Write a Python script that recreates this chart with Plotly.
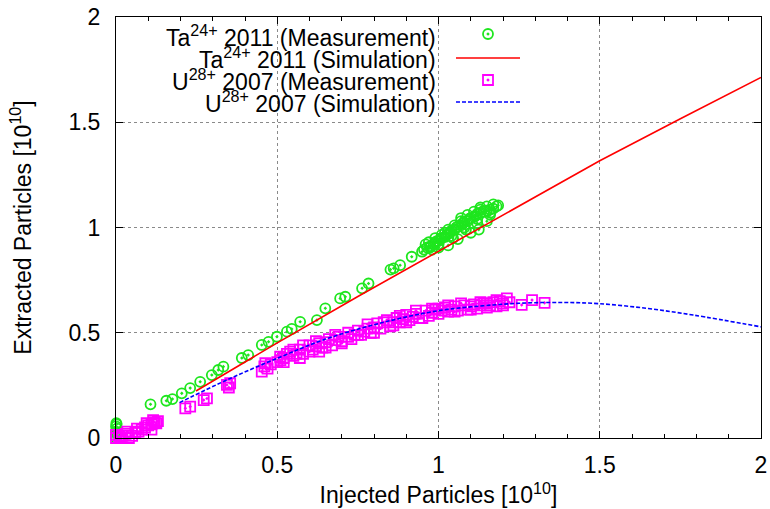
import plotly.graph_objects as go

# ---------------- data ----------------
ta_meas_x = [0.0, 0.0, 0.002, 0.0, 0.003, 0.0, 0.002, 0.001,
             0.107, 0.156, 0.175, 0.204, 0.23, 0.261, 0.297, 0.317, 0.333, 0.39, 0.41,
             0.452, 0.473, 0.499, 0.53, 0.545, 0.571, 0.623, 0.649, 0.695, 0.711,
             0.763, 0.783, 0.851, 0.861, 0.881, 0.917, 0.949, 0.974, 0.995,
             0.955, 0.965, 0.975, 0.985, 0.99, 1.0, 1.005, 1.01, 1.02, 1.025, 1.03, 1.035,
             1.04, 1.05, 1.055, 1.06, 1.07, 1.075, 1.08, 1.09, 1.095, 1.1, 1.11, 1.115,
             1.12, 1.13, 1.14, 1.15, 1.16, 1.17, 1.18, 1.185,
             1.03, 1.06, 1.1, 1.125, 1.15, 1.0, 0.98, 1.045, 1.085, 1.12, 1.16,
             1.02, 1.07, 1.13, 1.17,
             0.96, 0.97, 0.99, 1.01, 1.03, 1.05, 1.07, 1.09, 1.11, 1.13, 1.15,
             1.0, 1.04, 1.08, 1.12, 1.16]
ta_meas_y = [0.0, 0.01, 0.02, 0.03, 0.045, 0.055, 0.065, 0.07,
             0.16, 0.177, 0.185, 0.212, 0.237, 0.267, 0.299, 0.323, 0.339, 0.38, 0.394,
             0.442, 0.457, 0.481, 0.505, 0.518, 0.552, 0.56, 0.616, 0.663, 0.671,
             0.711, 0.734, 0.80, 0.806, 0.821, 0.861, 0.885, 0.905, 0.935,
             0.895, 0.905, 0.91, 0.92, 0.93, 0.935, 0.945, 0.95, 0.955, 0.965, 0.97, 0.975,
             0.985, 0.99, 1.0, 1.005, 1.01, 1.02, 1.025, 1.03, 1.04, 1.045, 1.05, 1.055,
             1.065, 1.07, 1.075, 1.08, 1.085, 1.09, 1.1, 1.105,
             0.915, 0.945, 0.975, 0.99, 1.03, 0.905, 0.895, 0.95, 0.99, 1.02, 1.06,
             0.975, 1.03, 1.085, 1.11,
             0.92, 0.93, 0.95, 0.965, 0.99, 1.01, 1.045, 1.06, 1.075, 1.095, 1.1,
             0.92, 0.96, 1.0, 1.04, 1.07]

ta_sim_x = [0.248, 0.5, 0.75, 1.0, 1.25, 1.5, 1.75, 2.0]
ta_sim_y = [0.223, 0.452, 0.672, 0.888, 1.104, 1.317, 1.517, 1.713]

u_meas_x = [0.0, 0.01, 0.02, 0.03, 0.04, 0.05, 0.06, 0.07, 0.08, 0.09, 0.1, 0.11, 0.12, 0.13,
            0.0, 0.015, 0.035, 0.065, 0.095, 0.115, 0.125, 0.11,
            0.215, 0.23, 0.272, 0.282, 0.344, 0.354, 0.35,
            0.452, 0.463, 0.47, 0.509, 0.52, 0.46, 0.48, 0.5, 0.51,
            0.52, 0.54, 0.55, 0.57, 0.58, 0.6, 0.61, 0.63, 0.64, 0.66, 0.67, 0.69, 0.7, 0.72,
            0.73, 0.75, 0.76, 0.78, 0.79, 0.81, 0.82, 0.84, 0.85, 0.87, 0.88, 0.9, 0.91, 0.93,
            0.94, 0.96, 0.97, 0.99, 1.0, 1.02, 1.03, 1.05, 1.06, 1.08, 1.09, 1.11, 1.12, 1.14,
            1.15, 1.17, 1.18, 1.2,
            0.56, 0.62, 0.68, 0.74, 0.8, 0.86, 0.92, 0.98, 1.04, 1.1, 1.16,
            0.65, 0.77, 0.89, 1.01, 1.13,
            0.55, 0.58, 0.6, 0.62, 0.65, 0.68, 0.7, 0.72, 0.75, 0.78, 0.8, 0.83, 0.86, 0.88,
            0.9, 0.93, 0.95, 0.98, 1.0, 1.03, 1.05, 1.07, 1.1, 1.13, 1.15, 1.18, 1.2,
            0.53, 0.57, 0.63,
            1.212, 1.258, 1.29, 1.329, 1.22, 1.19]
u_meas_y = [0.0, 0.005, 0.01, 0.02, 0.0, 0.01, 0.025, 0.03, 0.04, 0.05, 0.06, 0.065, 0.075, 0.08,
            0.015, 0.0, 0.03, 0.045, 0.07, 0.085, 0.07, 0.04,
            0.141, 0.149, 0.18, 0.188, 0.252, 0.26, 0.24,
            0.315, 0.355, 0.33, 0.386, 0.36, 0.34, 0.35, 0.36, 0.37,
            0.38, 0.41, 0.39, 0.42, 0.40, 0.44, 0.42, 0.45, 0.43, 0.47, 0.44, 0.48, 0.46, 0.50,
            0.47, 0.51, 0.49, 0.52, 0.50, 0.545, 0.52, 0.56, 0.53, 0.57, 0.55, 0.585, 0.56, 0.59,
            0.57, 0.605, 0.58, 0.61, 0.59, 0.62, 0.60, 0.625, 0.605, 0.63, 0.61, 0.635, 0.615, 0.64,
            0.62, 0.645, 0.625, 0.64,
            0.40, 0.435, 0.465, 0.49, 0.525, 0.55, 0.575, 0.595, 0.61, 0.625, 0.63,
            0.455, 0.505, 0.565, 0.605, 0.63,
            0.42, 0.44, 0.41, 0.46, 0.43, 0.49, 0.45, 0.48, 0.49, 0.54, 0.50, 0.55, 0.535, 0.58,
            0.55, 0.605, 0.57, 0.615, 0.615, 0.63, 0.60, 0.64, 0.61, 0.645, 0.64, 0.655, 0.63,
            0.40, 0.38, 0.41,
            0.663, 0.632, 0.655, 0.642, 0.645, 0.65]

u_sim_x = [0.197, 0.35, 0.51, 0.65, 0.82, 1.0, 1.13, 1.25, 1.377, 1.5, 1.65, 1.79, 2.0]
u_sim_y = [0.168, 0.28, 0.385, 0.47, 0.546, 0.605, 0.627, 0.64, 0.644, 0.638, 0.615, 0.584, 0.528]

tick_vals = [0, 0.5, 1, 1.5, 2]
tick_text = ["0", "0.5", "1", "1.5", "2"]

legend_labels = ["Ta<sup>24+</sup> 2011 (Measurement)",
                 "Ta<sup>24+</sup> 2011 (Simulation)",
                 "U<sup>28+</sup> 2007 (Measurement)",
                 "U<sup>28+</sup> 2007 (Simulation)"]

GREEN = "#1ee61e"
RED = "#ff0000"
MAGENTA = "#ff00ff"
BLUE = "#0000ff"
FONT = "Liberation Sans, Arial, sans-serif"
FS = 23
MS = 10
MW = 1.8

fig = go.Figure()
fig.add_trace(go.Scatter(x=ta_meas_x, y=ta_meas_y, mode="markers", cliponaxis=False,
                         marker=dict(symbol="circle-open-dot", size=MS, color=GREEN,
                                     line=dict(width=MW, color=GREEN)), showlegend=False))
fig.add_trace(go.Scatter(x=ta_sim_x, y=ta_sim_y, mode="lines",
                         line=dict(color=RED, width=1.6), showlegend=False))
fig.add_trace(go.Scatter(x=u_meas_x, y=u_meas_y, mode="markers", cliponaxis=False,
                         marker=dict(symbol="square-open-dot", size=MS, color=MAGENTA,
                                     line=dict(width=MW, color=MAGENTA)), showlegend=False))
fig.add_trace(go.Scatter(x=u_sim_x, y=u_sim_y, mode="lines", line_shape="spline",
                         line=dict(color=BLUE, width=1.6, dash="4px,2px"), showlegend=False))

# ---- legend (text on the left, key on the right), drawn in a pixel overlay axis ----
PX_L, PX_R, PX_T, PX_B = 116, 761, 17, 438
row_y = [36, 58, 80, 102]
text_right = 438
key_x0, key_x1, key_xc = 456, 520, 488

for lbl, yy in zip(legend_labels, row_y):
    fig.add_annotation(x=text_right, y=yy, xref="x2", yref="y2", text=lbl, showarrow=False,
                       xanchor="right", yanchor="middle", font=dict(family=FONT, size=FS, color="black"))

fig.add_trace(go.Scatter(x=[key_xc], y=[row_y[0] - 2], xaxis="x2", yaxis="y2", mode="markers",
                         marker=dict(symbol="circle-open-dot", size=MS, color=GREEN,
                                     line=dict(width=MW, color=GREEN)), showlegend=False, hoverinfo="skip"))
fig.add_trace(go.Scatter(x=[key_x0, key_x1], y=[row_y[1], row_y[1]], xaxis="x2", yaxis="y2", mode="lines",
                         line=dict(color=RED, width=1.6), showlegend=False, hoverinfo="skip"))
fig.add_trace(go.Scatter(x=[key_xc], y=[row_y[2]], xaxis="x2", yaxis="y2", mode="markers",
                         marker=dict(symbol="square-open-dot", size=MS, color=MAGENTA,
                                     line=dict(width=MW, color=MAGENTA)), showlegend=False, hoverinfo="skip"))
fig.add_trace(go.Scatter(x=[key_x0, key_x1], y=[row_y[3], row_y[3]], xaxis="x2", yaxis="y2", mode="lines",
                         line=dict(color=BLUE, width=1.6, dash="4px,2px"), showlegend=False, hoverinfo="skip"))

axis_common = dict(
    showline=True, linecolor="black", linewidth=1, mirror="ticks",
    ticks="inside", ticklen=7, tickcolor="black", tickwidth=1,
    showgrid=True, gridcolor="#8a8a8a", griddash="dot", gridwidth=1,
    zeroline=False, tickvals=tick_vals, ticktext=tick_text, automargin=False,
    tickfont=dict(family=FONT, size=FS, color="black"),
)

fig.update_layout(
    width=770, height=509,
    margin=dict(l=PX_L, r=770 - PX_R, t=PX_T, b=509 - PX_B),
    paper_bgcolor="white", plot_bgcolor="white",
    font=dict(family=FONT, size=FS, color="black"),
    xaxis=dict(range=[0, 2], **axis_common,
               minor=dict(dtick=0.1, ticks="inside", ticklen=4, tickcolor="black", showgrid=False),
               ticklabelstandoff=6,
               title=dict(text="Injected Particles [10<sup>10</sup>]",
                          font=dict(family=FONT, size=FS), standoff=10)),
    yaxis=dict(range=[0, 2], **axis_common, ticklabelstandoff=10,
               title=dict(text="Extracted Particles [10<sup>10</sup>]",
                          font=dict(family=FONT, size=FS), standoff=30)),
    xaxis2=dict(range=[PX_L, PX_R], overlaying="x", visible=False, fixedrange=True, automargin=False),
    yaxis2=dict(range=[PX_B, PX_T], overlaying="y", visible=False, fixedrange=True, automargin=False),
)

fig.write_html("out.html")
